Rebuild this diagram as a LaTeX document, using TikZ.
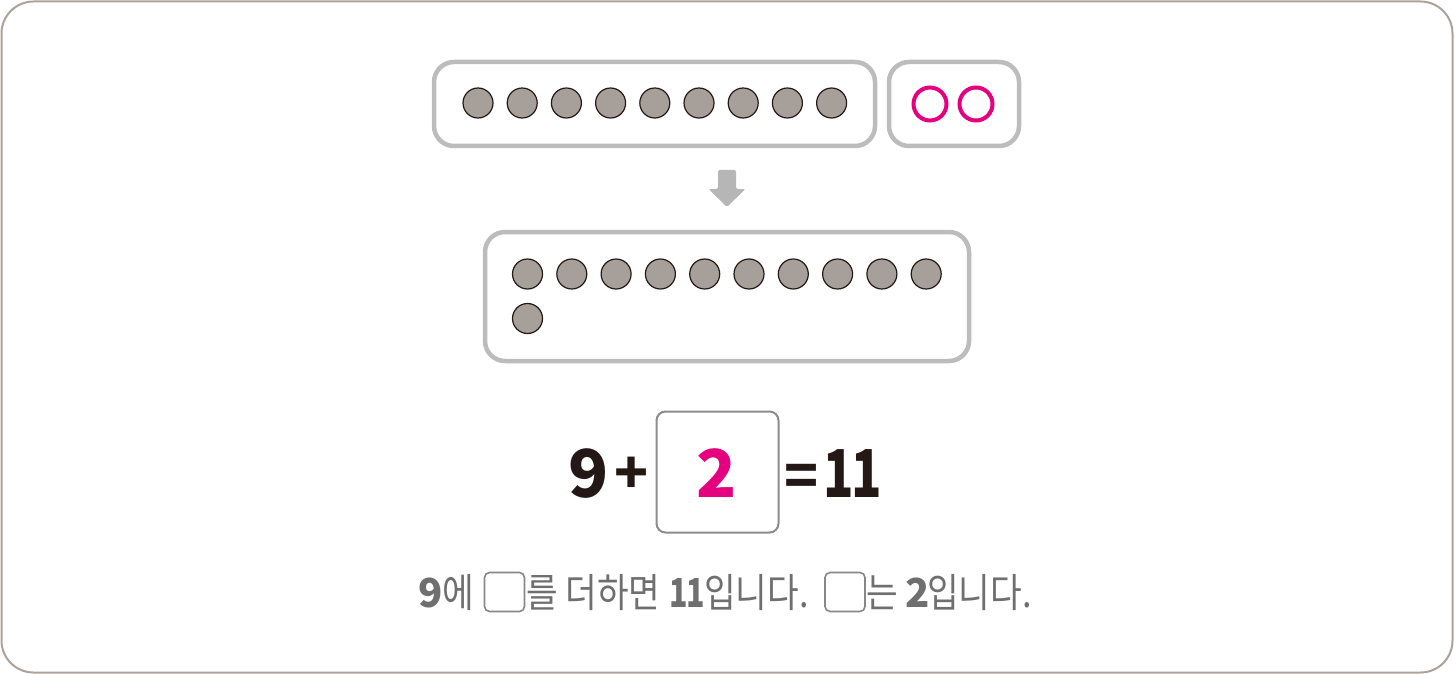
\documentclass[tikz,border=0pt]{standalone}
\usepackage{fontspec}
\newfontfamily\kr{Noto Sans CJK KR}
\newfontfamily\krc{Noto Sans CJK KR}[FakeStretch=0.86]
\newfontfamily\krel{Noto Sans CJK KR}[FakeStretch=0.76,LetterSpace=-4]
\definecolor{framec}{RGB}{172,162,154}
\definecolor{boxg}{RGB}{188,188,188}
\definecolor{dotfill}{RGB}{167,159,154}
\definecolor{dotline}{RGB}{35,24,21}
\definecolor{mag}{RGB}{228,0,127}
\definecolor{eqbox}{RGB}{140,140,140}
\definecolor{txtg}{RGB}{112,111,111}
\definecolor{blankc}{RGB}{135,135,135}
\definecolor{blk}{RGB}{35,24,21}
\definecolor{arrg}{RGB}{182,182,182}
\tikzset{
  frame/.style={draw=framec,line width=2pt,rounded corners=32pt},
  tray/.style={draw=boxg,line width=4.5pt,rounded corners=20pt},
  dot/.style={circle,draw=dotline,fill=dotfill,line width=1.2pt,minimum size=30pt,inner sep=0pt},
  ring/.style={circle,draw=mag,line width=4pt,minimum size=33pt,inner sep=0pt},
  eqtxt/.style={font=\kr\bfseries\fontsize{66}{66}\selectfont,text=blk,inner sep=0pt,anchor=base},
  eqop/.style={font=\kr\bfseries\fontsize{56}{56}\selectfont,text=blk,inner sep=0pt,anchor=base},
  ansbox/.style={draw=eqbox,line width=2pt,rounded corners=9pt,minimum width=122pt,minimum height=121pt,inner sep=0pt},
  sent/.style={font=\krc\fontsize{40}{40}\selectfont,text=txtg,inner sep=0pt,anchor=base west},
  sentnum/.style={font=\kr\bfseries\fontsize{40}{40}\selectfont,text=txtg,inner sep=0pt,anchor=base west},
  blank/.style={draw=blankc,line width=1.6pt,rounded corners=5pt,minimum width=40pt,minimum height=39pt,inner sep=0pt},
}
\begin{document}
\begin{tikzpicture}[x=1pt,y=-1pt]
\useasboundingbox (0,0) rectangle (1454,674);
\draw[frame] (1.5,1.5) rectangle (1452.5,672.5);
% top trays
\node[tray,minimum width=441pt,minimum height=84pt] (t1) at (654.5,104) {};
\node[tray,minimum width=130pt,minimum height=84pt] (t2) at (954,104) {};
\foreach \i in {0,...,8}{
  \node[dot] (a\i) at ({478+44.2*\i},103) {};
}
\node[ring] (m1) at (930,104) {};
\node[ring] (m2) at (976,104) {};
% arrow
\fill[arrg,rounded corners=2pt] (718,170) -- (736,170) -- (736,189) -- (745.5,189) -- (727,207) -- (708.5,189) -- (718,189) -- cycle;
% bottom tray
\node[tray,minimum width=484pt,minimum height=129pt] (t3) at (727,296.5) {};
\foreach \i in {0,...,9}{
  \node[dot] (b\i) at ({527.5+44.3*\i},274) {};
}
\node[dot] (b10) at (527.5,318.5) {};
% equation
\node[eqtxt] (n9) at (589,497) {9};
\node[eqop] (plus) at (631.5,493) {+};
\node[ansbox] (box) at (717.5,472) {};
\node[eqtxt,text=mag] (two) at (717,497) {2};
\node[eqop] (eq) at (802,496.5) {=};
\node[eqtxt,font=\krel\bfseries\fontsize{66}{66}\selectfont] (eleven) at (853,497) {11};
% sentence
\node[sentnum] (s9) at (418,607) {9};
\node[sent] (s1) at (442,607) {에};
\node[blank] (bl1) at (504.5,592) {};
\node[sent] (s2) at (526,607) {를 더하면};
\node[sentnum,font=\krel\bfseries\fontsize{40}{40}\selectfont] (s11) at (669,607) {11};
\node[sent] (s3) at (704,607) {입니다.};
\node[blank] (bl2) at (845,592) {};
\node[sent] (s4) at (866,607) {는};
\node[sentnum] (s2n) at (905,607) {2};
\node[sent] (s5) at (927,607) {입니다.};
\end{tikzpicture}
\end{document}
